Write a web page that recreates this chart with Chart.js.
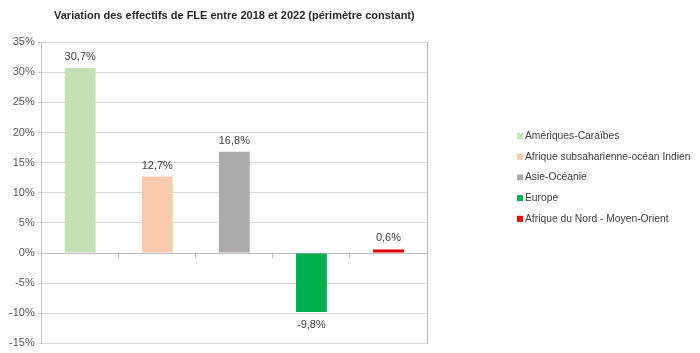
<!DOCTYPE html>
<html>
<head>
<meta charset="utf-8">
<script src="https://cdn.jsdelivr.net/npm/chart.js@4.4.0/dist/chart.umd.min.js"></script>
<style>
  html, body { margin: 0; padding: 0; background: #fff; }
  #wrap { width: 700px; height: 353px; }
</style>
</head>
<body>
<div id="wrap"><canvas id="myChart"></canvas></div>
<script>
var regions = ['Amériques-Caraïbes', 'Afrique subsaharienne-océan Indien', 'Asie-Océanie', 'Europe', 'Afrique du Nord - Moyen-Orient'];
var variation = [30.7, 12.7, 16.8, -9.8, 0.6];
var colours = ['#C5E0B4', '#F8CBAD', '#AEAAAA', '#00B050', '#E60000'];
var yMin = -15, yMax = 35, yStep = 5;

Chart.defaults.font.family = '"Liberation Sans", Arial, sans-serif';
Chart.defaults.color = '#595959';

function frLabel(v) {
    return v.toFixed(1).replace('.', ',') + '%';
}

// value labels above / below each bar
var valueLabels = {
    id: 'valueLabels',
    afterDatasetsDraw: function(chart) {
        var ctx = chart.ctx;
        var meta = chart.getDatasetMeta(0);
        ctx.save();
        ctx.font = '11px "Liberation Sans", Arial, sans-serif';
        ctx.fillStyle = '#404040';
        ctx.textAlign = 'center';
        ctx.textBaseline = 'middle';
        meta.data.forEach(function(bar, i) {
            var v = variation[i];
            var y = v >= 0 ? bar.y - 11 : bar.y + 13;
            ctx.fillText(frLabel(v), bar.x, y);
        });
        ctx.restore();
    }
};

// legend on the right, Excel style
var sideLegend = {
    id: 'sideLegend',
    afterDraw: function(chart) {
        var ctx = chart.ctx;
        ctx.save();
        ctx.font = '10.3px "Liberation Sans", Arial, sans-serif';
        ctx.textBaseline = 'middle';
        regions.forEach(function(name, i) {
            var y = 136 + i * 20.7;
            ctx.fillStyle = colours[i];
            ctx.fillRect(517, y - 3, 6, 6);
            ctx.fillStyle = '#404040';
            ctx.fillText(name, 525, y);
        });
        ctx.restore();
    }
};

var ctx = document.getElementById('myChart').getContext('2d');

var chart = new Chart(ctx, {
    type: 'bar',
    data: {
        labels: regions,
        datasets: [{
            label: 'Variation 2018-2022',
            data: variation,
            backgroundColor: colours,
            categoryPercentage: 0.8,
            barPercentage: 0.5
        }]
    },
    options: {
        responsive: true,
        maintainAspectRatio: false,
        animation: false,
        layout: {
            padding: { left: 6, right: 265, top: 0, bottom: 2 }
        },
        plugins: {
            legend: { display: false },
            tooltip: { enabled: false },
            title: {
                display: true,
                fullSize: false,
                text: 'Variation des effectifs de FLE entre 2018 et 2022 (périmètre constant)',
                color: '#262626',
                font: { size: 11, weight: 'bold' },
                padding: { top: 9, bottom: 20 }
            }
        },
        scales: {
            x: {
                position: { y: 0 },
                ticks: { display: false },
                grid: {
                    offset: true,
                    drawOnChartArea: false,
                    tickLength: 4,
                    color: '#BFBFBF'
                },
                border: { color: '#BFBFBF' }
            },
            y: {
                min: yMin,
                max: yMax,
                ticks: {
                    stepSize: yStep,
                    font: { size: 11 },
                    padding: 3,
                    callback: function(v) { return v + '%'; }
                },
                grid: { color: '#D9D9D9', tickLength: 4, tickColor: '#D9D9D9' },
                border: { color: '#BFBFBF' }
            },
            yRight: {
                position: 'right',
                min: yMin,
                max: yMax,
                ticks: { display: false },
                grid: { display: false },
                border: { color: '#A9B9CB' }
            }
        }
    },
    plugins: [valueLabels, sideLegend]
});
</script>
</body>
</html>
